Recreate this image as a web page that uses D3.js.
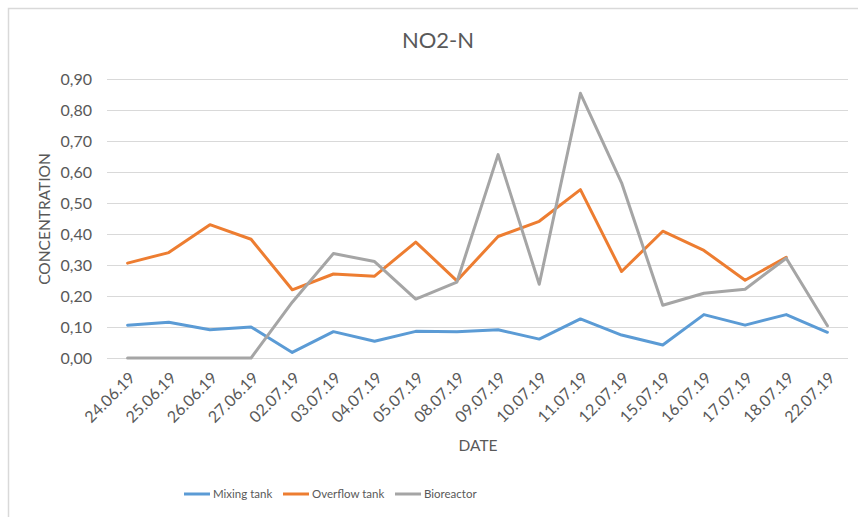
<!DOCTYPE html>
<html>
<head>
<meta charset="utf-8">
<style>
  body { margin: 0; background: #fff; }
  text { font-family: Lato, "Open Sans", sans-serif; fill: #595959; }
</style>
</head>
<body>
<svg width="858" height="517"></svg>
<script src="https://cdn.jsdelivr.net/npm/d3@7"></script>
<script>

var dates = ["24.06.19","25.06.19","26.06.19","27.06.19","02.07.19","03.07.19","04.07.19","05.07.19","08.07.19",
             "09.07.19","10.07.19","11.07.19","12.07.19","15.07.19","16.07.19","17.07.19","18.07.19","22.07.19"];
var mixingTank   = [0.106,0.115,0.091,0.100,0.018,0.085,0.054,0.086,0.085,0.091,0.061,0.126,0.074,0.042,0.140,0.106,0.140,0.083];
var overflowTank = [0.306,0.340,0.430,0.383,0.220,0.271,0.264,0.374,0.249,0.392,0.441,0.543,0.279,0.409,0.347,0.251,0.325,null];
var bioreactor   = [0,0,0,0,0.180,0.337,0.311,0.190,0.245,0.656,0.238,0.854,0.565,0.170,0.209,0.222,0.322,0.104];
var yTicks = [0,0.1,0.2,0.3,0.4,0.5,0.6,0.7,0.8,0.9];

var series = [
  {name: "Mixing tank", values: mixingTank, color: "#5B9BD5"},
  {name: "Overflow tank", values: overflowTank, color: "#ED7D31"},
  {name: "Bioreactor", values: bioreactor, color: "#A5A5A5"}
];

var svg = d3.select("svg"),
    plotL = 107, plotR = 848, plotT = 79, plotB = 358;

// outer chart border (right/bottom edges fall outside the picture)
svg.append("rect")
    .attr("x", 8.5).attr("y", 8.5)
    .attr("width", 900).attr("height", 600)
    .attr("fill", "none").attr("stroke", "#d9d9d9").attr("stroke-width", 1.5);

var x = d3.scalePoint().domain(dates).range([plotL, plotR]).padding(0.5);
var y = d3.scaleLinear().domain([0, 0.9]).range([plotB, plotT]);
var fmt = function(d) { return d3.format(".2f")(d).replace(".", ","); };

// gridlines + y labels
var yAxis = svg.append("g")
    .attr("transform", "translate(" + plotL + ",0)")
    .call(d3.axisLeft(y).tickValues(yTicks).tickFormat(fmt)
        .tickSize(-(plotR - plotL)).tickPadding(15));
yAxis.select(".domain").remove();
yAxis.selectAll("line").attr("stroke", "#d9d9d9").attr("stroke-width", 1);
yAxis.selectAll("text").attr("font-size", 16).attr("font-family", null).attr("fill", null);

// x labels
var xAxis = svg.append("g")
    .attr("transform", "translate(0," + plotB + ")")
    .call(d3.axisBottom(x).tickSize(0));
xAxis.select(".domain").remove();
xAxis.selectAll("text")
    .attr("font-size", 16).attr("font-family", null).attr("fill", null)
    .attr("text-anchor", "end")
    .attr("y", 0).attr("dy", "0.35em")
    .attr("transform", "translate(4,17) rotate(-45)");

// lines
var line = d3.line()
    .defined(function(d) { return d != null; })
    .x(function(d, i) { return x(dates[i]); })
    .y(function(d) { return y(d); });

svg.append("g").selectAll("path")
  .data(series)
  .enter().append("path")
    .attr("d", function(s) { return line(s.values); })
    .attr("fill", "none")
    .attr("stroke", function(s) { return s.color; })
    .attr("stroke-width", 3)
    .attr("stroke-linejoin", "round")
    .attr("stroke-linecap", "round");

// titles
svg.append("text")
    .attr("x", 438).attr("y", 48)
    .attr("text-anchor", "middle").attr("font-size", 22)
    .text("NO2-N");

svg.append("text")
    .attr("x", 478).attr("y", 451)
    .attr("text-anchor", "middle").attr("font-size", 15.5)
    .text("DATE");

svg.append("text")
    .attr("transform", "translate(50,219) rotate(-90)")
    .attr("text-anchor", "middle").attr("font-size", 15.5)
    .text("CONCENTRATION");

// legend
var legX = [184, 283, 395];
var leg = svg.append("g").selectAll("g")
  .data(series)
  .enter().append("g")
    .attr("transform", function(s, i) { return "translate(" + legX[i] + ",494)"; });
leg.append("line")
    .attr("x1", 0).attr("x2", 26)
    .attr("stroke", function(s) { return s.color; })
    .attr("stroke-width", 3);
leg.append("text")
    .attr("x", 29).attr("dy", "0.35em")
    .attr("font-size", 11.5)
    .text(function(s) { return s.name; });

</script>
</body>
</html>
